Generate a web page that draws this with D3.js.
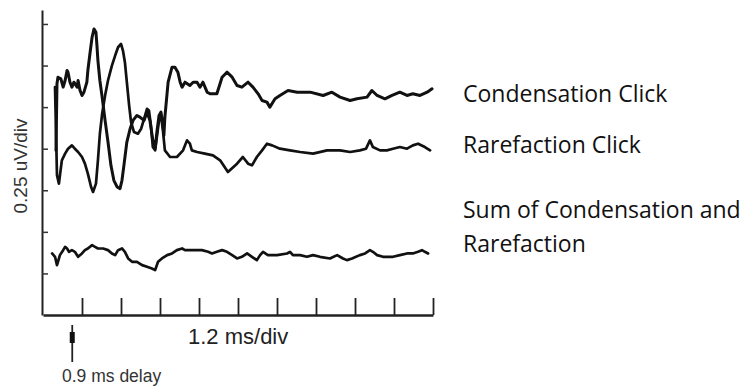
<!DOCTYPE html>
<html>
<head>
<meta charset="utf-8">
<script src="https://cdn.jsdelivr.net/npm/d3@7"></script>
<style>
  body { margin: 0; background: #fff; }
</style>
</head>
<body>
<div id="my_dataviz"></div>
<script>
// ABR traces : time in ms, amplitude in uV (each trace keeps its own offset)
const condTime = [0.40,0.43,0.46,0.55,0.62,0.68,0.74,0.77,0.83,0.89,0.95,1.05,1.08,1.14,1.20,1.26,1.35,1.38,1.45,1.51,1.57,1.63,1.66,1.69,1.75,1.82,1.91,2.00,2.09,2.18,2.28,2.37,2.43,2.49,2.58,2.68,2.77,2.89,2.98,3.11,3.20,3.29,3.38,3.45,3.51,3.57,3.63,3.69,3.72,3.75,3.85,3.97,4.06,4.15,4.22,4.28,4.37,4.52,4.62,4.74,4.83,4.92,5.05,5.14,5.35,5.51,5.66,5.82,5.97,6.12,6.31,6.46,6.62,6.74,6.89,6.98,7.14,7.29,7.54,7.82,8.22,8.62,8.89,9.14,9.45,9.66,9.97,10.12,10.28,10.52,10.74,10.98,11.20,11.38,11.60,11.82,11.97]
const condValue = [0.99,1.39,1.43,1.42,1.37,1.41,1.47,1.46,1.40,1.37,1.40,1.37,1.41,1.35,1.32,1.34,1.40,1.47,1.58,1.67,1.72,1.70,1.62,1.53,1.41,1.31,1.17,1.04,0.90,0.81,0.77,0.76,0.81,0.90,1.04,1.12,1.17,1.20,1.19,1.17,1.22,1.17,1.05,1.00,1.11,1.20,1.22,1.14,1.08,1.19,1.40,1.49,1.49,1.46,1.40,1.37,1.40,1.38,1.40,1.40,1.37,1.40,1.34,1.33,1.33,1.43,1.46,1.43,1.38,1.37,1.40,1.37,1.33,1.29,1.28,1.25,1.30,1.32,1.35,1.34,1.34,1.32,1.34,1.31,1.29,1.30,1.31,1.35,1.32,1.30,1.32,1.34,1.32,1.33,1.32,1.34,1.36]

const rareTime = [0.37,0.43,0.49,0.58,0.68,0.77,0.89,0.98,1.08,1.20,1.29,1.38,1.48,1.54,1.63,1.69,1.75,1.82,1.91,2.00,2.12,2.22,2.31,2.40,2.46,2.52,2.58,2.65,2.71,2.80,2.92,3.02,3.11,3.20,3.26,3.32,3.38,3.45,3.51,3.57,3.63,3.69,3.75,3.91,4.12,4.31,4.43,4.52,4.58,4.74,4.98,5.23,5.45,5.69,5.97,6.15,6.31,6.43,6.58,6.74,6.89,7.05,7.29,7.60,7.91,8.31,8.74,9.14,9.45,9.75,9.94,10.06,10.15,10.37,10.58,10.77,10.98,11.20,11.38,11.54,11.75,11.91]
const rareValue = [1.37,0.84,0.79,0.93,0.97,1.00,1.02,1.00,0.98,0.95,0.91,0.85,0.77,0.74,0.79,0.93,1.09,1.21,1.32,1.41,1.50,1.56,1.61,1.63,1.59,1.52,1.40,1.26,1.16,1.10,1.09,1.12,1.18,1.24,1.23,1.14,1.01,0.99,1.08,1.17,1.20,1.11,0.99,0.95,0.95,0.99,1.05,1.03,0.99,0.98,0.97,0.96,0.93,0.86,0.91,0.95,0.91,0.90,0.95,0.99,1.03,1.02,1.00,0.99,0.98,0.97,0.99,0.99,0.98,0.99,1.00,1.05,1.01,0.99,0.99,1.00,1.01,1.00,1.02,1.03,1.01,0.99]

const sumTime = [0.28,0.37,0.43,0.46,0.52,0.62,0.68,0.74,0.80,0.89,0.98,1.08,1.20,1.29,1.38,1.51,1.60,1.69,1.85,2.00,2.12,2.22,2.31,2.43,2.52,2.62,2.74,2.89,3.05,3.20,3.35,3.45,3.54,3.66,3.82,3.97,4.12,4.28,4.37,4.89,5.08,5.20,5.35,5.51,5.66,5.82,5.97,6.12,6.28,6.43,6.58,6.68,6.77,6.92,7.20,7.51,7.60,7.69,7.91,8.12,8.31,8.52,8.83,9.05,9.23,9.35,9.51,9.75,9.91,10.06,10.15,10.28,10.46,10.77,10.98,11.20,11.38,11.54,11.66,11.75,11.85]
const sumValue = [0.37,0.35,0.30,0.32,0.36,0.39,0.41,0.40,0.38,0.39,0.38,0.35,0.37,0.39,0.40,0.42,0.41,0.40,0.40,0.39,0.37,0.36,0.39,0.40,0.38,0.34,0.32,0.32,0.30,0.29,0.28,0.27,0.32,0.34,0.36,0.37,0.39,0.40,0.39,0.39,0.38,0.37,0.38,0.39,0.38,0.36,0.34,0.35,0.37,0.35,0.33,0.36,0.38,0.36,0.36,0.37,0.38,0.36,0.36,0.35,0.36,0.35,0.34,0.36,0.34,0.33,0.34,0.36,0.37,0.39,0.38,0.36,0.35,0.35,0.36,0.37,0.37,0.38,0.39,0.38,0.37]

const traceLabels = ["Condensation Click", "Rarefaction Click", ["Sum of Condensation and", "Rarefaction"]]
const xTicks = [1.2, 2.4, 3.6, 4.8, 6.0, 7.2, 8.4, 9.6, 10.8, 12.0]
const yTicks = [0.25, 0.5, 0.75, 1.0, 1.25, 1.5, 1.75]
const delayMs = 0.9

// Dimensions
width_chart = 750
height_chart = 388

const svg = d3.select("#my_dataviz")
  .append("svg")
    .attr("width", width_chart)
    .attr("height", height_chart)
    .style("font-family", "'Liberation Sans', Arial, sans-serif")

// Echelles : 1.2 ms/div et 0.25 uV/div
const x = d3.scaleLinear().domain([0, 12]).range([43, 433])
const y = d3.scaleLinear().domain([0, 1.834]).range([315, 10])

// Axe Y (ticks vers l'interieur)
const yAxis = svg.append("g")
  .attr("transform", `translate(${x(0) - 1}, 0)`)
  .call(d3.axisLeft(y).tickValues(yTicks).tickSize(-6).tickSizeOuter(0).tickFormat(""))
yAxis.select(".domain").attr("stroke", "#222").attr("stroke-width", 2)
yAxis.selectAll(".tick line").attr("stroke", "#333").attr("stroke-width", 1.5)

// Axe X (ticks vers le haut)
const xAxis = svg.append("g")
  .attr("transform", `translate(0, ${y(0)})`)
  .call(d3.axisBottom(x).tickValues(xTicks).tickSize(-17).tickSizeOuter(0).tickFormat(""))
xAxis.select(".domain").attr("stroke", "#222").attr("stroke-width", 2.5)
xAxis.selectAll(".tick line").attr("stroke", "#222").attr("stroke-width", 1.8)

// Traces
const line = d3.line().x(d => x(d[0])).y(d => y(d[1]))
const traces = [
  d3.zip(condTime, condValue),
  d3.zip(rareTime, rareValue),
  d3.zip(sumTime, sumValue)
]
svg.selectAll("path.trace")
  .data(traces)
  .join("path")
    .attr("class", "trace")
    .attr("d", line)
    .attr("fill", "none")
    .attr("stroke", "#111")
    .attr("stroke-width", (d, i) => i == 0 ? 3 : 2.7)
    .attr("stroke-linejoin", "round")
    .attr("stroke-linecap", "round")

// Marqueur du delai
svg.append("line")
  .attr("x1", x(delayMs)).attr("x2", x(delayMs))
  .attr("y1", y(0) + 10).attr("y2", y(0) + 47)
  .attr("stroke", "#222").attr("stroke-width", 1.8)
svg.append("rect")
  .attr("x", x(delayMs) - 2.5).attr("y", y(0) + 17)
  .attr("width", 5).attr("height", 11)
  .attr("fill", "#111")

// Textes des axes
svg.append("text")
  .attr("x", 188).attr("y", 344)
  .attr("font-size", 22).attr("fill", "#222")
  .text("1.2 ms/div")
svg.append("text")
  .attr("x", 62).attr("y", 382)
  .attr("font-size", 17.5).attr("fill", "#333")
  .text("0.9 ms delay")
svg.append("text")
  .attr("transform", "translate(27, 166) rotate(-90)")
  .attr("text-anchor", "middle")
  .attr("font-size", 19).attr("fill", "#333")
  .text("0.25 uV/div")

// Legende a droite
const labelY = [102, 153, 218]
traceLabels.forEach((lab, i) => {
  const t = svg.append("text")
    .attr("x", 463).attr("y", labelY[i])
    .attr("font-family", "'Open Sans', 'Noto Sans', sans-serif")
    .attr("font-size", 23).attr("fill", "#111")
  const lines = Array.isArray(lab) ? lab : [lab]
  lines.forEach((l, j) => {
    t.append("tspan").attr("x", 463).attr("dy", j == 0 ? 0 : 34).text(l)
  })
})
</script>
</body>
</html>
